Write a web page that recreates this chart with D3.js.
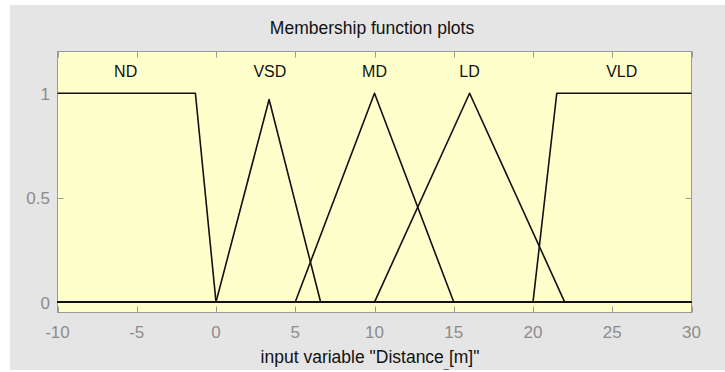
<!DOCTYPE html>
<html>
<head>
<meta charset="utf-8">
<script src="https://cdn.jsdelivr.net/npm/d3@7"></script>
<style>
  html, body { margin: 0; padding: 0; background: #ffffff; }
  svg { display: block; }
</style>
</head>
<body>
<svg id="chart" width="725" height="372"></svg>
<script>
// membership functions (vertices in x / degree)
const mfNames = ["ND", "VSD", "MD", "LD", "VLD"];
const ndX = [-10, -1.3, 0, 30];
const ndY = [1, 1, 0, 0];
const vsdX = [-10, 0, 3.35, 6.6, 30];
const vsdY = [0, 0, 0.97, 0, 0];
const mdX = [-10, 5, 10, 15, 30];
const mdY = [0, 0, 1, 0, 0];
const ldX = [-10, 10, 16, 22, 30];
const ldY = [0, 0, 1, 0, 0];
const vldX = [-10, 20, 21.5, 30];
const vldY = [0, 0, 1, 1];
const labelX = [-5.7, 3.4, 10, 16, 25.6];

const xTicks = [-10, -5, 0, 5, 10, 15, 20, 25, 30];
const yTicks = [0, 0.5, 1];

const mfs = [[ndX, ndY], [vsdX, vsdY], [mdX, mdY], [ldX, ldY], [vldX, vldY]]
    .map(([xs, ys]) => xs.map((x, i) => ({ x: x, y: ys[i] })));

const svg = d3.select("#chart");
const W = 725, H = 372;
const pLeft = 57.5, pRight = 691.5, pTop = 51.5, pBottom = 312.5;

// grey figure background with white strip on top / left
svg.append("rect")
    .attr("x", 10).attr("y", 5)
    .attr("width", W - 10).attr("height", 365)
    .attr("fill", "#e5e5e5");

const x = d3.scaleLinear().domain([-10, 30]).range([pLeft, pRight]);
const y = d3.scaleLinear().domain([-0.05, 1.2]).range([pBottom, pTop]);

svg.append("rect")
    .attr("x", pLeft).attr("y", pTop)
    .attr("width", pRight - pLeft).attr("height", pBottom - pTop)
    .attr("fill", "#ffffcc")
    .attr("stroke", "#9a9a9a")
    .attr("stroke-width", 1);

// ticks pointing inwards, on all four sides
const tickColor = "#9a9a9a";
const tl = 6;
const tickG = svg.append("g").attr("stroke", tickColor).attr("stroke-width", 1);
xTicks.forEach(t => {
    const px = Math.round(x(t)) + 0.5;
    tickG.append("line").attr("x1", px).attr("x2", px).attr("y1", pBottom).attr("y2", pBottom - tl);
    tickG.append("line").attr("x1", px).attr("x2", px).attr("y1", pTop).attr("y2", pTop + tl);
});
yTicks.forEach(t => {
    const py = Math.round(y(t)) + 0.5;
    tickG.append("line").attr("x1", pLeft).attr("x2", pLeft + tl).attr("y1", py).attr("y2", py);
    tickG.append("line").attr("x1", pRight).attr("x2", pRight - tl).attr("y1", py).attr("y2", py);
});

const font = "'Liberation Sans', Arial, sans-serif";

svg.append("g").selectAll("text")
    .data(xTicks)
    .enter()
    .append("text")
    .attr("x", d => x(d))
    .attr("y", 338)
    .attr("text-anchor", "middle")
    .attr("font-family", font)
    .attr("font-size", "17px")
    .attr("fill", "#8c8c8c")
    .text(d => d);

svg.append("g").selectAll("text")
    .data(yTicks)
    .enter()
    .append("text")
    .attr("x", 50)
    .attr("y", d => y(d) + 6.5)
    .attr("text-anchor", "end")
    .attr("font-family", font)
    .attr("font-size", "17px")
    .attr("fill", "#8c8c8c")
    .text(d => d);

// membership function curves
const line = d3.line()
    .x(d => x(d.x))
    .y(d => y(d.y));

svg.append("g").selectAll("path")
    .data(mfs)
    .enter()
    .append("path")
    .attr("d", line)
    .attr("fill", "none")
    .attr("stroke", "#111")
    .attr("stroke-width", 1.6)
    .attr("stroke-linejoin", "round");

svg.append("g").selectAll("text")
    .data(mfNames)
    .enter()
    .append("text")
    .attr("x", (d, i) => x(labelX[i]))
    .attr("y", 77)
    .attr("text-anchor", "middle")
    .attr("font-family", font)
    .attr("font-size", "16px")
    .attr("fill", "#111")
    .text(d => d);

svg.append("text")
    .attr("x", 372)
    .attr("y", 34)
    .attr("text-anchor", "middle")
    .attr("font-family", font)
    .attr("font-size", "17.5px")
    .attr("fill", "#111")
    .text("Membership function plots");

const xl = svg.append("text")
    .attr("x", 370)
    .attr("y", 363)
    .attr("text-anchor", "middle")
    .attr("font-family", font)
    .attr("font-size", "17.5px")
    .attr("fill", "#111");
xl.append("tspan").text("input variable \"Distance");
xl.append("tspan").attr("font-size", "9px").attr("dy", 5).text("_");
xl.append("tspan").attr("dy", -5).text("[m]\"");
</script>
</body>
</html>
